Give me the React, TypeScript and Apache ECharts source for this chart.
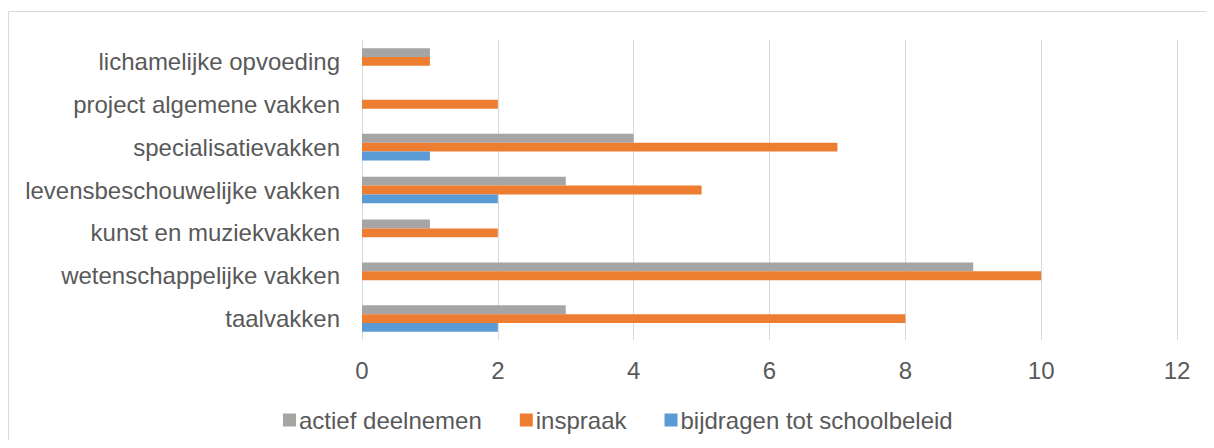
import React, { useEffect, useRef } from "react";
import * as echarts from "echarts";

const categories = [
  "taalvakken",
  "wetenschappelijke vakken",
  "kunst en muziekvakken",
  "levensbeschouwelijke vakken",
  "specialisatievakken",
  "project algemene vakken",
  "lichamelijke opvoeding",
];
const actiefDeelnemen = [3, 9, 1, 3, 4, 0, 1];
const inspraak = [8, 10, 2, 5, 7, 2, 1];
const bijdragen = [2, 0, 0, 2, 1, 0, 0];
const xTicks = [0, 2, 4, 6, 8, 10, 12];

const FONT = "'Liberation Sans', Arial, sans-serif";
const TEXT = "#595959";

export default function App() {
  const ref = useRef<HTMLDivElement>(null);
  useEffect(() => {
    const chart = echarts.init(ref.current!, null, { renderer: "svg" });
    chart.setOption({
      animation: false,
      textStyle: { fontFamily: FONT },
      graphic: [
        {
          type: "rect",
          shape: { x: 0.5, y: 3.5, width: 1300, height: 600 },
          style: { fill: "none", stroke: "#d9d9d9", lineWidth: 1 },
          silent: true,
        },
      ],
      grid: { left: 354, right: 29, top: 32, height: 300, containLabel: false },
      legend: {
        data: ["actief deelnemen", "inspraak", "bijdragen tot schoolbeleid"],
        top: 400,
        left: 275,
        icon: "rect",
        itemWidth: 13,
        itemHeight: 13,
        itemGap: 38,
        padding: 0,
        textStyle: { color: TEXT, fontSize: 24, fontFamily: FONT, padding: [0, 0, 0, -2] },
      },
      xAxis: {
        type: "value",
        min: xTicks[0],
        max: xTicks[xTicks.length - 1],
        interval: 2,
        axisLine: { show: false },
        axisTick: { show: false },
        splitLine: { lineStyle: { color: "#d9d9d9", width: 1 } },
        axisLabel: { color: TEXT, fontSize: 24, fontFamily: FONT, margin: 18 },
      },
      yAxis: {
        type: "category",
        data: categories,
        axisLine: { show: true, lineStyle: { color: "#d9d9d9" } },
        axisTick: { show: false },
        axisLabel: { color: TEXT, fontSize: 24, fontFamily: FONT, margin: 22 },
      },
      series: [
        {
          name: "actief deelnemen",
          type: "bar",
          data: actiefDeelnemen,
          itemStyle: { color: "#a5a5a5" },
          barGap: "0%",
          barCategoryGap: "38%",
        },
        {
          name: "inspraak",
          type: "bar",
          data: inspraak,
          itemStyle: { color: "#ed7d31" },
          barGap: "0%",
          barCategoryGap: "38%",
        },
        {
          name: "bijdragen tot schoolbeleid",
          type: "bar",
          data: bijdragen,
          itemStyle: { color: "#5b9bd5" },
          barGap: "0%",
          barCategoryGap: "38%",
        },
      ],
    });
    return () => chart.dispose();
  }, []);
  return <div ref={ref} style={{ width: 1198, height: 432 }} />;
}
